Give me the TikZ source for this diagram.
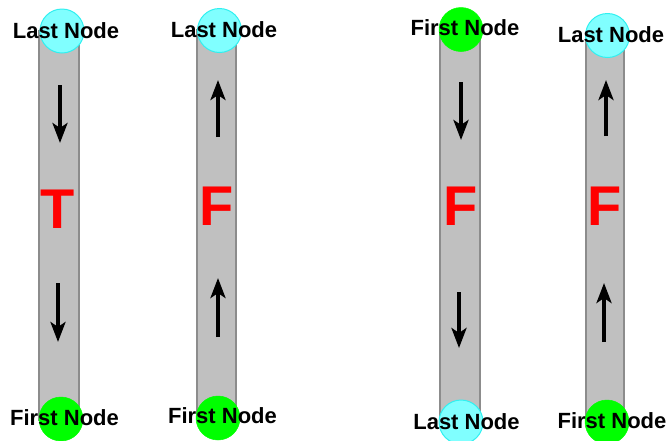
\documentclass[tikz,border=0pt]{standalone}
\usepackage{fontspec}
\setmainfont{Liberation Sans}
\usetikzlibrary{arrows.meta}
\definecolor{bargray}{HTML}{C0C0C0}
\definecolor{baredge}{HTML}{8C8C8C}
\definecolor{lastfill}{HTML}{80FFFF}
\definecolor{lastedge}{HTML}{30F0F0}
\definecolor{firstfill}{HTML}{00FF00}
\begin{document}
\begin{tikzpicture}[x=1pt,y=-1pt,
  barbox/.style={fill=bargray,draw=baredge,line width=1.2pt},
  lastcirc/.style={circle,fill=lastfill,draw=lastedge,line width=1pt,minimum size=44pt,inner sep=0pt},
  firstcirc/.style={circle,fill=firstfill,draw=firstfill,line width=0.5pt,minimum size=44pt,inner sep=0pt},
  lbl/.style={inner sep=0pt,font=\fontsize{22}{22}\selectfont\bfseries},
  bigletter/.style={inner sep=0pt,text=red,font=\fontsize{56}{56}\selectfont\bfseries},
  flow/.style={line width=4pt,-{Stealth[length=20pt,width=15pt,inset=5pt]}}]
\useasboundingbox (0,0) rectangle (668,440);
% bars
\draw[barbox] (39,31) rectangle (79,420);
\draw[barbox] (197,30) rectangle (236,418);
\draw[barbox] (440,29) rectangle (480,422);
\draw[barbox] (586,36) rectangle (624,422);
% circles
\node[lastcirc] (t1) at (62,31) {};
\node[firstcirc] (b1) at (61,419) {};
\node[lastcirc] (t2) at (219.5,30.5) {};
\node[firstcirc] (b2) at (218,418) {};
\node[firstcirc] (t3) at (461,29.5) {};
\node[lastcirc] (b3) at (461,422) {};
\node[lastcirc] (t4) at (607.5,35.5) {};
\node[firstcirc] (b4) at (607,422) {};
% labels
\node[lbl] (lt1) at (66,31) {Last Node};
\node[lbl] (lb1) at (64.5,418) {First Node};
\node[lbl] (lt2) at (224,30) {Last Node};
\node[lbl] (lb2) at (222.5,416) {First Node};
\node[lbl] (lt3) at (465,28) {First Node};
\node[lbl] (lb3) at (466.5,421.5) {Last Node};
\node[lbl] (lt4) at (611,34.5) {Last Node};
\node[lbl] (lb4) at (612,421) {First Node};
% letters
\node[bigletter] (m1) at (58,209.5) {T};
\node[bigletter] (m2) at (217,206.5) {F};
\node[bigletter] (m3) at (461,206) {F};
\node[bigletter] (m4) at (605,206) {F};
% arrows
\coordinate (a1s) at (60,85);  \coordinate (a1e) at (60,143);
\coordinate (a2s) at (58,283); \coordinate (a2e) at (58,342);
\coordinate (a3s) at (218,137); \coordinate (a3e) at (218,80);
\coordinate (a4s) at (218,337); \coordinate (a4e) at (218,278);
\coordinate (a5s) at (461,82); \coordinate (a5e) at (461,140);
\coordinate (a6s) at (459,292); \coordinate (a6e) at (459,348);
\coordinate (a7s) at (606,136); \coordinate (a7e) at (606,80);
\coordinate (a8s) at (604,342); \coordinate (a8e) at (604,283);
\draw[flow] (a1s) -- (a1e);
\draw[flow] (a2s) -- (a2e);
\draw[flow] (a3s) -- (a3e);
\draw[flow] (a4s) -- (a4e);
\draw[flow] (a5s) -- (a5e);
\draw[flow] (a6s) -- (a6e);
\draw[flow] (a7s) -- (a7e);
\draw[flow] (a8s) -- (a8e);
\end{tikzpicture}
\end{document}
